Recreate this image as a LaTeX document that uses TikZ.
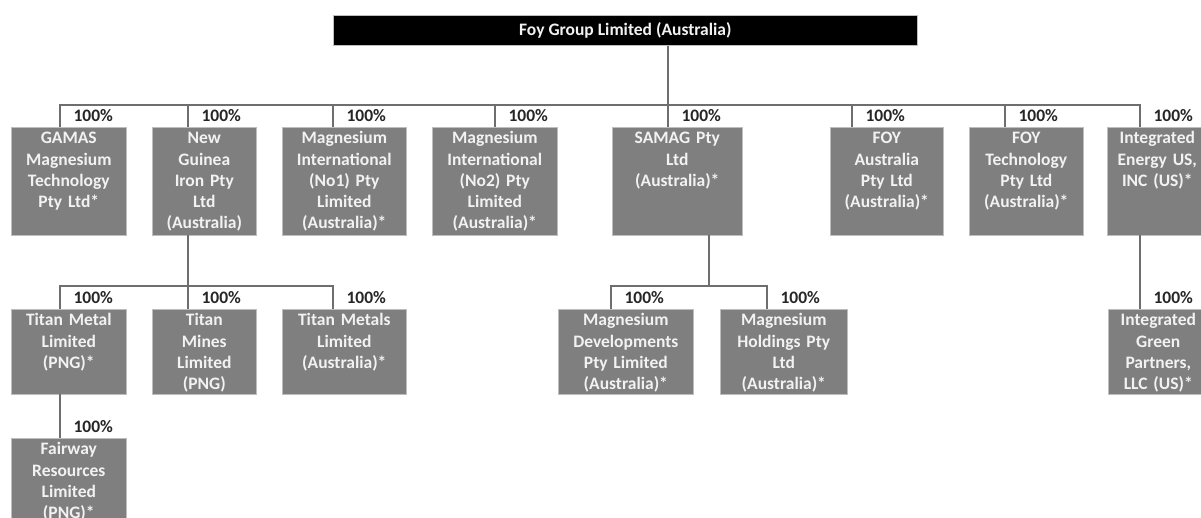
\documentclass[tikz,border=0pt]{standalone}
\usepackage{fontspec}
\setmainfont{Carlito}
\usetikzlibrary{positioning}

\definecolor{coygray}{RGB}{127,127,127}
\definecolor{coytext}{RGB}{242,242,242}
\definecolor{coyedge}{RGB}{190,190,190}
\definecolor{linkgray}{RGB}{110,110,110}

\begin{document}
\begin{tikzpicture}[x=1pt, y=-1pt,
    txt/.style={font=\fontsize{17.5}{21.3}\selectfont\bfseries},
    co/.style={txt, fill=coygray, text=coytext, draw=coyedge, line width=0.6pt,
        anchor=north west, inner sep=0pt, align=center, text height=16.5pt},
    lvlA/.style={co, text depth=91.5pt},
    lvlB/.style={co, text depth=68.5pt},
    topbox/.style={txt, fill=black, text=coytext, draw=coyedge, line width=0.6pt,
        anchor=north west, inner sep=0pt, minimum width=584pt, minimum height=30pt},
    link/.style={draw=linkgray, line width=1.2pt},
    pct/.style={txt, text=black!85, inner sep=0pt, right=13pt}]

    \useasboundingbox (0,0) rectangle (1201,518);
    \clip (0,0) rectangle (1201,518);

    % =========================================
    % === Capogruppo ===
    % =========================================
    \node[topbox] (foy) at (333,15) {Foy Group Limited (Australia)};

    % =========================================
    % === Primo livello ===
    % =========================================
    \node[lvlA, text width=115pt] (gamas) at (11,127) {GAMAS\\Magnesium\\Technology\\Pty Ltd*};
    \node[lvlA, text width=104pt] (ngi) at (152,127) {New\\Guinea\\Iron Pty\\Ltd\\(Australia)};
    \node[lvlA, text width=124pt] (mi1) at (282,127) {Magnesium\\International\\(No1) Pty\\Limited\\(Australia)*};
    \node[lvlA, text width=125pt] (mi2) at (432,127) {Magnesium\\International\\(No2) Pty\\Limited\\(Australia)*};
    \node[lvlA, text width=130pt] (samag) at (612,127) {SAMAG Pty\\Ltd\\(Australia)*};
    \node[lvlA, text width=113pt] (foyau) at (830,127) {FOY\\Australia\\Pty Ltd\\(Australia)*};
    \node[lvlA, text width=114pt] (foyte) at (969,127) {FOY\\Technology\\Pty Ltd\\(Australia)*};
    \node[lvlA, text width=100pt] (ieus) at (1107,127) {Integrated\\Energy US,\\INC (US)*};

    % =========================================
    % === Secondo livello ===
    % =========================================
    \node[lvlB, text width=115pt] (tmetal) at (11,309) {Titan Metal\\Limited\\(PNG)*};
    \node[lvlB, text width=104pt] (tmines) at (152,309) {Titan\\Mines\\Limited\\(PNG)};
    \node[lvlB, text width=124pt] (tmetals) at (282,309) {Titan Metals\\Limited\\(Australia)*};
    \node[lvlB, text width=135pt] (mdev) at (558,309) {Magnesium\\Developments\\Pty Limited\\(Australia)*};
    \node[lvlB, text width=127pt] (mhold) at (720,309) {Magnesium\\Holdings Pty\\Ltd\\(Australia)*};
    \node[lvlB, text width=100pt] (igp) at (1108,309) {Integrated\\Green\\Partners,\\LLC (US)*};

    % === Terzo livello ===
    \node[lvlB, text width=115pt] (fairway) at (11,438) {Fairway\\Resources\\Limited\\(PNG)*};

    % Punti di aggancio
    \coordinate (bus1) at (668,105);
    \coordinate (gamas-in) at (60,127);
    \coordinate (ngi-in) at (188,127);
    \coordinate (mi1-in) at (333,127);
    \coordinate (mi2-in) at (495,127);
    \coordinate (samag-in) at (668,127);
    \coordinate (foyau-in) at (852,127);
    \coordinate (foyte-in) at (1005,127);
    \coordinate (ieus-in) at (1140,127);

    \coordinate (ngi-out) at (188,235);
    \coordinate (bus2) at (188,286);
    \coordinate (tmetal-in) at (60,309);
    \coordinate (tmines-in) at (188,309);
    \coordinate (tmetals-in) at (333,309);

    \coordinate (samag-out) at (709,235);
    \coordinate (bus3) at (709,286);
    \coordinate (mdev-in) at (611,309);
    \coordinate (mhold-in) at (767,309);

    \coordinate (ieus-out) at (1140,235);
    \coordinate (igp-in) at (1140,309);

    \coordinate (tmetal-out) at (60,394);
    \coordinate (fairway-in) at (60,438);

    % Collegamenti capogruppo
    \draw[link] (foy.south -| bus1) -- (bus1);
    \draw[link] (bus1) -| node[pct, pos=0.75] (p1) {100\%} (gamas-in);
    \draw[link] (bus1) -| node[pct, pos=0.75] (p2) {100\%} (ngi-in);
    \draw[link] (bus1) -| node[pct, pos=0.75] (p3) {100\%} (mi1-in);
    \draw[link] (bus1) -| node[pct, pos=0.75] (p4) {100\%} (mi2-in);
    \draw[link] (bus1) -| node[pct, pos=0.75] (p5) {100\%} (samag-in);
    \draw[link] (bus1) -| node[pct, pos=0.75] (p6) {100\%} (foyau-in);
    \draw[link] (bus1) -| node[pct, pos=0.75] (p7) {100\%} (foyte-in);
    \draw[link] (bus1) -| node[pct, pos=0.75] (p8) {100\%} (ieus-in);

    % Collegamenti New Guinea
    \draw[link] (ngi-out) -- (bus2);
    \draw[link] (bus2) -| node[pct, pos=0.75] (p9) {100\%} (tmetal-in);
    \draw[link] (bus2) -| node[pct, pos=0.75] (p10) {100\%} (tmines-in);
    \draw[link] (bus2) -| node[pct, pos=0.75] (p11) {100\%} (tmetals-in);

    % Collegamenti SAMAG
    \draw[link] (samag-out) -- (bus3);
    \draw[link] (bus3) -| node[pct, pos=0.75] (p12) {100\%} (mdev-in);
    \draw[link] (bus3) -| node[pct, pos=0.75] (p13) {100\%} (mhold-in);

    % Collegamenti singoli
    \draw[link] (ieus-out) -- node[pct, pos=0.85] (p14) {100\%} (igp-in);
    \draw[link] (tmetal-out) -- node[pct, pos=0.75] (p15) {100\%} (fairway-in);

\end{tikzpicture}
\end{document}
